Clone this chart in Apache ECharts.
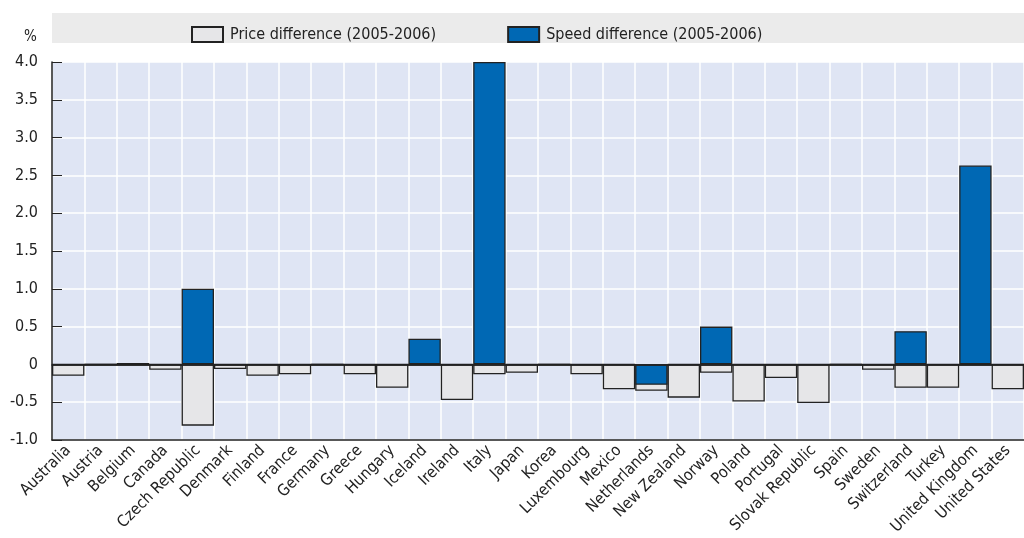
<!DOCTYPE html>
<html><head><meta charset="utf-8">
<script src="https://cdn.jsdelivr.net/npm/echarts@6/dist/echarts.min.js"></script>
<style>html,body{margin:0;padding:0;background:#fff}#c{width:1024px;height:538px}</style>
</head><body><div id="c"></div>
<script>
var countries = ["Australia","Austria","Belgium","Canada","Czech Republic","Denmark","Finland","France","Germany","Greece","Hungary","Iceland","Ireland","Italy","Japan","Korea","Luxembourg","Mexico","Netherlands","New Zealand","Norway","Poland","Portugal","Slovak Republic","Spain","Sweden","Switzerland","Turkey","United Kingdom","United States"];
var priceDiff = [-0.15,0,0.02,-0.07,-0.81,-0.06,-0.15,-0.13,0,-0.13,-0.31,0,-0.47,-0.13,-0.11,0,-0.13,-0.33,-0.35,-0.44,-0.11,-0.49,-0.18,-0.51,0,-0.07,-0.31,-0.31,0,-0.33];
var speedDiff = [0,0,0,0,1.0,0,0,0,0,0,0,0.34,0,4.0,0,0,0,0,-0.27,0,0.5,0,0,0,0,0,0.44,0,2.63,0];
var seriesNames = ["Price difference (2005-2006)","Speed difference (2005-2006)"];
var yTicks = {min:-1, max:4, interval:0.5};

var FONT = "'Liberation Sans Narrow','DejaVu Sans Condensed',sans-serif";
var chart = echarts.init(document.getElementById('c'));
chart.setOption({
  animation:false,
  backgroundColor:'#fff',
  graphic:[
    {type:'rect', shape:{x:52,y:13,width:972,height:30}, style:{fill:'#ebebeb'}, z:-10},
    {type:'text', left:24, top:30, style:{text:'%', font:'15px '+FONT, fill:'#222'}}
  ],
  legend:{
    left:186, top:21, itemWidth:31, itemHeight:15, itemGap:71, icon:'rect',
    textStyle:{fontFamily:FONT, fontSize:16, color:'#222', padding:[0,0,0,2]},
    data:seriesNames
  },
  grid:{left:52, right:-11, top:62, bottom:98, show:true, backgroundColor:'#dfe5f4', borderWidth:0},
  xAxis:[{
    type:'category', data:countries, position:'bottom',
    axisLine:{onZero:false, lineStyle:{color:'#222', width:1.5}},
    axisTick:{inside:true, length:10, lineStyle:{color:'#222', width:1}},
    splitLine:{show:true, lineStyle:{color:'#fff', width:1.5}},
    axisLabel:{interval:0, rotate:45, fontFamily:FONT, fontSize:16, color:'#222', margin:8}
  },{
    type:'category', data:countries, position:'top',
    axisLine:{show:true, lineStyle:{color:'#222', width:1.5}},
    axisTick:{show:false}, axisLabel:{show:false}, splitLine:{show:false}
  }],
  yAxis:{
    type:'value', min:yTicks.min, max:yTicks.max, interval:yTicks.interval,
    axisLine:{show:true, lineStyle:{color:'#222', width:1.5}},
    axisTick:{show:true, inside:true, length:10, lineStyle:{color:'#222'}},
    splitLine:{show:true, lineStyle:{color:'#fff', width:1.5}},
    axisLabel:{fontFamily:FONT, fontSize:16, color:'#222', margin:14,
      formatter:function(v){ return v===0 ? '0' : v.toFixed(1); }}
  },
  series:[{
    name:seriesNames[0], type:'bar', data:priceDiff, barGap:'-100%', barCategoryGap:0,
    itemStyle:{color:'#e6e6e8', borderColor:'#222', borderWidth:1.3},
    markLine:{silent:true, symbol:'none', label:{show:false},
      lineStyle:{color:'#222', width:1.5, type:'solid'}, data:[{yAxis:0}], z:10}
  },{
    name:seriesNames[1], type:'bar', data:speedDiff, barGap:'-100%', barCategoryGap:0,
    itemStyle:{color:'#0068b4', borderColor:'#222', borderWidth:1.3}
  }]
});
</script></body></html>
